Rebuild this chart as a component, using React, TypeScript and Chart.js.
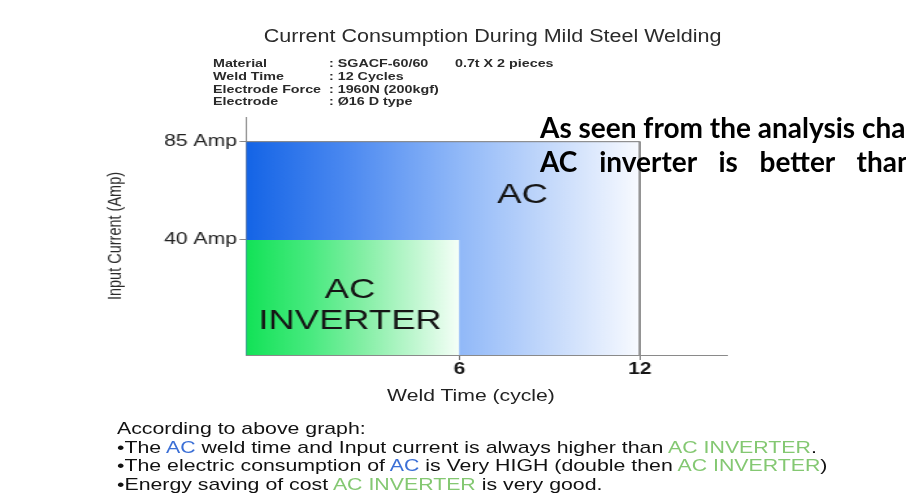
import React, { useEffect, useRef } from 'react';
import { Chart, registerables } from 'chart.js';

Chart.register(...registerables);

// ---------- data ----------
const seriesNames = ['AC INVERTER', 'AC'];
const weldTimeCycles = [6, 12]; // cycles
const inputCurrentAmp = [40, 85]; // Amp
const xTickValues = [6, 12];
const yTickValues = [40, 85];
const yTickLabels = ['40 Amp', '85 Amp'];
const rectLabels = [['AC', 'INVERTER'], ['AC']];
const X_MIN = -1.1;
const X_MAX = 14.9;
const Y_MIN = -12.7;
const Y_MAX = 96.3;

// ---------- layout / style ----------
const W = 906;
const H = 493;
const CW = 697; // the whole slide is stretched horizontally
const K = W / CW;
const px = (x: number) => x / K;
const labelAnchors = [
  { x: 2.36, y: 9.9 },
  { x: 8.1, y: 60.6 },
];
const gradientStops: [number, string][][] = [
  [
    [0, '#12e257'],
    [0.3, '#48ea7f'],
    [0.55, '#84efa5'],
    [0.8, '#c2f7d2'],
    [1, '#f6fff8'],
  ],
  [
    [0, '#1464e6'],
    [0.25, '#4a88f0'],
    [0.54, '#90b8f8'],
    [0.77, '#c4d9fb'],
    [1, '#f8faff'],
  ],
];
const SANS = '"Liberation Sans", Arial, Helvetica, sans-serif';
const BOLD_SIDE = "Lato, 'Open Sans', sans-serif";
const BLUE = '#3b6fd6';
const GREEN = '#84c872';

const rectLabelPlugin = {
  id: 'rectLabels',
  afterDatasetsDraw(chart: any) {
    const { ctx, scales } = chart;
    ctx.save();
    ctx.font = `28px ${SANS}`;
    ctx.fillStyle = '#151515';
    ctx.textAlign = 'center';
    ctx.textBaseline = 'middle';
    rectLabels.forEach((lines, i) => {
      const cx = scales.x.getPixelForValue(labelAnchors[i].x);
      const cy = scales.y.getPixelForValue(labelAnchors[i].y);
      lines.forEach((t, j) => ctx.fillText(t, cx, cy + (j - (lines.length - 1) / 2) * 30.5));
    });
    ctx.restore();
  },
};

function Txt(props: {
  x: number;
  baseline: number;
  size: number;
  bold?: boolean;
  color?: string;
  center?: boolean;
  family?: string;
  ratio?: number;
  style?: React.CSSProperties;
  children: React.ReactNode;
}) {
  const ratio = props.ratio ?? 0.8465;
  return (
    <div
      style={{
        position: 'absolute',
        left: props.x,
        top: props.baseline - ratio * props.size,
        fontSize: props.size,
        lineHeight: `${props.size}px`,
        fontFamily: props.family ?? SANS,
        fontWeight: props.bold ? 700 : 400,
        color: props.color ?? '#222',
        whiteSpace: 'nowrap',
        transform: props.center ? 'translateX(-50%)' : undefined,
        ...props.style,
      }}
    >
      {props.children}
    </div>
  );
}

const materialRows = [
  ['Material', ': SGACF-60/60', '0.7t X 2 pieces'],
  ['Weld Time', ': 12 Cycles'],
  ['Electrode Force', ': 1960N (200kgf)'],
  ['Electrode', ': Ø16 D type'],
];

export default function App() {
  const ref = useRef<HTMLCanvasElement>(null);

  useEffect(() => {
    const canvas = ref.current;
    if (!canvas) return;
    const makeFill = (i: number) => (c: any) => {
      const chart = c.chart;
      const { chartArea, scales } = chart;
      if (!chartArea || !scales.x) return gradientStops[i][0][1];
      const x0 = scales.x.getPixelForValue(X_MIN);
      const x1 = scales.x.getPixelForValue(weldTimeCycles[i]);
      const g = chart.ctx.createLinearGradient(x0, 0, x1, 0);
      gradientStops[i].forEach(([o, col]) => g.addColorStop(o, col));
      return g;
    };

    const chart = new Chart(canvas, {
      type: 'line',
      data: {
        datasets: seriesNames.map((name, i) => ({
          label: name,
          data: [
            { x: X_MIN, y: inputCurrentAmp[i] },
            { x: weldTimeCycles[i], y: inputCurrentAmp[i] },
            { x: weldTimeCycles[i], y: Y_MIN },
          ],
          fill: 'start',
          backgroundColor: makeFill(i),
          borderColor: i === 1 ? '#7a7a7a' : 'rgba(0,0,0,0)',
          borderWidth: 1,
          pointRadius: 0,
          pointHoverRadius: 0,
          tension: 0,
        })),
      },
      options: {
        responsive: false,
        animation: false,
        devicePixelRatio: 1,
        events: [],
        layout: { padding: { left: 0, top: 117, right: CW - px(727), bottom: 0 } },
        plugins: {
          legend: { display: false },
          tooltip: { enabled: false },
          title: { display: false },
        },
        scales: {
          x: {
            type: 'linear',
            min: X_MIN,
            max: X_MAX,
            afterBuildTicks: (s: any) => {
              s.ticks = xTickValues.map((v) => ({ value: v }));
            },
            afterFit: (s: any) => {
              s.height = H - 355;
            },
            ticks: {
              padding: 0,
              maxRotation: 0,
              autoSkip: false,
              color: '#151515',
              font: { family: SANS, size: 16, weight: 'bold' },
              callback: (_v: any, i: number) => String(xTickValues[i]),
            },
            grid: { drawOnChartArea: false, drawTicks: true, tickLength: 5, color: '#777' },
            border: { display: true, color: '#8a8a8a', width: 1 },
          },
          y: {
            type: 'linear',
            min: Y_MIN,
            max: Y_MAX,
            afterBuildTicks: (s: any) => {
              s.ticks = yTickValues.map((v) => ({ value: v }));
            },
            afterFit: (s: any) => {
              s.width = px(246);
            },
            ticks: {
              padding: 2,
              autoSkip: false,
              color: '#222',
              font: { family: SANS, size: 16.3 },
              callback: (_v: any, i: number) => yTickLabels[i],
            },
            grid: { drawOnChartArea: false, drawTicks: true, tickLength: 5, color: '#888' },
            border: { display: true, color: '#8a8a8a', width: 1 },
            title: {
              display: true,
              text: 'Input Current (Amp)',
              color: '#2a2a2a',
              font: { family: SANS, size: 14.5 },
              padding: { top: px(116) - 8.7, bottom: 0 },
            },
          },
        },
      },
      plugins: [rectLabelPlugin],
    } as any);
    return () => chart.destroy();
  }, []);

  const Ac = () => <span style={{ color: BLUE }}>AC</span>;
  const Inv = () => <span style={{ color: GREEN }}>AC INVERTER</span>;

  return (
    <div
      style={{
        position: 'absolute',
        left: 0,
        top: 0,
        width: W,
        height: H,
        overflow: 'hidden',
        background: '#fff',
      }}
    >
      <div
        style={{
          position: 'absolute',
          left: 0,
          top: 0,
          width: CW,
          height: H,
          transform: `scaleX(${K})`,
          transformOrigin: '0 0',
        }}
      >
        <canvas ref={ref} width={CW} height={H} style={{ position: 'absolute', left: 0, top: 0 }} />

        <Txt
          x={px(493)}
          baseline={42.5}
          size={18}
          color="#2b2b2b"
          style={{ transform: 'translateX(-50%) scaleX(0.92)' }}
        >
          Current Consumption During Mild Steel Welding
        </Txt>

        {materialRows.map((row, i) => {
          const b = 67.5 + i * 12.7;
          return (
            <React.Fragment key={i}>
              <Txt x={px(213)} baseline={b} size={11} bold color="#2a2a2a">
                {row[0]}
              </Txt>
              <Txt x={px(329)} baseline={b} size={11} bold color="#2a2a2a">
                {row[1]}
              </Txt>
              {row[2] ? (
                <Txt x={px(455)} baseline={b} size={11} bold color="#2a2a2a">
                  {row[2]}
                </Txt>
              ) : null}
            </React.Fragment>
          );
        })}

        <Txt x={px(471)} baseline={401} size={16.3} color="#222" center>
          Weld Time (cycle)
        </Txt>

        <Txt x={px(117)} baseline={434} size={16.4} color="#111">
          According to above graph:
        </Txt>
        <Txt x={px(117)} baseline={452.5} size={16.4} color="#111">
          •The <Ac /> weld time and Input current is always higher than <Inv />.
        </Txt>
        <Txt x={px(117)} baseline={471} size={16.4} color="#111">
          •The electric consumption of <Ac /> is Very HIGH (double then <Inv />)
        </Txt>
        <Txt x={px(117)} baseline={489.5} size={16.4} color="#111">
          •Energy saving of cost <Inv /> is very good.
        </Txt>
      </div>

      <Txt x={540} baseline={138} size={28} bold color="#000" family={BOLD_SIDE} ratio={0.887}>
        As seen from the analysis chart, the
      </Txt>
      <Txt
        x={540}
        baseline={172}
        size={28}
        bold
        color="#000"
        family={BOLD_SIDE}
        ratio={0.887}
        style={{ wordSpacing: 15 }}
      >
        AC inverter is better than AC
      </Txt>
    </div>
  );
}
